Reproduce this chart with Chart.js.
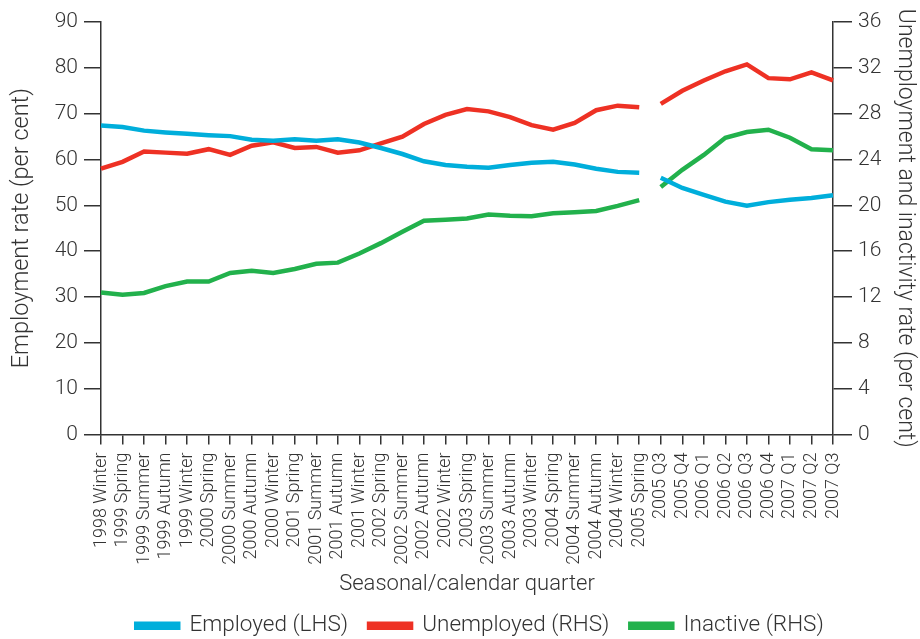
<!DOCTYPE html>
<html>
<head>
<meta charset="utf-8">
<script src="https://cdn.jsdelivr.net/npm/chart.js@4/dist/chart.umd.min.js"></script>
<style>
  html, body { margin: 0; padding: 0; background: #ffffff; }
  #wrap { width: 920px; height: 639px; position: relative; }
</style>
</head>
<body>
<div id="wrap"><canvas id="c" width="920" height="639"></canvas></div>
<script>
const categories = [
  '1998 Winter', '1999 Spring', '1999 Summer', '1999 Autumn', '1999 Winter',
  '2000 Spring', '2000 Summer', '2000 Autumn', '2000 Winter',
  '2001 Spring', '2001 Summer', '2001 Autumn', '2001 Winter',
  '2002 Spring', '2002 Summer', '2002 Autumn', '2002 Winter',
  '2003 Spring', '2003 Summer', '2003 Autumn', '2003 Winter',
  '2004 Spring', '2004 Summer', '2004 Autumn', '2004 Winter',
  '2005 Spring',
  '2005 Q3', '2005 Q4', '2006 Q1', '2006 Q2', '2006 Q3', '2006 Q4',
  '2007 Q1', '2007 Q2', '2007 Q3'
];
// series break (seasonal -> calendar quarters)
const breakAfter = '2005 Spring';

const employedLHS = [
  67.4, 67.1, 66.3, 65.9, 65.6, 65.3, 65.1, 64.3, 64.1, 64.4, 64.1, 64.4, 63.7,
  62.5, 61.2, 59.6, 58.8, 58.4, 58.2, 58.8, 59.3, 59.5, 58.9, 58.0, 57.3, 57.1,
  56.0, 53.8, 52.3, 50.8, 49.9, 50.7, 51.2, 51.6, 52.2
];
const unemployedRHS = [
  23.2, 23.8, 24.7, 24.6, 24.5, 24.9, 24.4, 25.2, 25.5, 25.0, 25.1, 24.6, 24.8,
  25.4, 26.0, 27.1, 27.9, 28.4, 28.2, 27.7, 27.0, 26.6, 27.2, 28.3, 28.7, 28.55,
  28.85, 30.0, 30.9, 31.7, 32.3, 31.1, 31.0, 31.6, 30.9
];
const inactiveRHS = [
  12.4, 12.2, 12.35, 12.95, 13.35, 13.35, 14.1, 14.3, 14.1, 14.45, 14.9, 15.0, 15.8,
  16.7, 17.7, 18.65, 18.75, 18.85, 19.2, 19.1, 19.05, 19.3, 19.4, 19.5, 19.95, 20.45,
  21.6, 23.1, 24.4, 25.9, 26.4, 26.6, 25.9, 24.9, 24.8
];

const seriesNames = ['Employed (LHS)', 'Unemployed (RHS)', 'Inactive (RHS)'];
const leftTicks = { min: 0, max: 90, step: 10 };
const rightTicks = { min: 0, max: 36, step: 4 };

const colors = { blue: '#00aedb', red: '#ee3124', green: '#22b14c' };
const breakIndex = categories.indexOf(breakAfter);
const FONT = "'Roboto', 'Liberation Sans', sans-serif";
const TXT = '#333333';
const AX = '#333333';

function ds(label, data, color, axis) {
  return {
    label, data, yAxisID: axis,
    borderColor: color, backgroundColor: color,
    borderWidth: 4.5, pointRadius: 0, pointHoverRadius: 0, tension: 0,
    segment: {
      borderColor: ctx => ctx.p0DataIndex === breakIndex ? 'rgba(0,0,0,0)' : undefined
    }
  };
}

new Chart(document.getElementById('c'), {
  type: 'line',
  data: {
    labels: categories,
    datasets: [
      ds(seriesNames[0], employedLHS, colors.blue, 'yL'),
      ds(seriesNames[1], unemployedRHS, colors.red, 'yR'),
      ds(seriesNames[2], inactiveRHS, colors.green, 'yR')
    ]
  },
  options: {
    responsive: false,
    animation: false,
    devicePixelRatio: 1,
    layout: { padding: { top: 22, left: 40, right: 0, bottom: -8 } },
    plugins: {
      tooltip: { enabled: false },
      legend: {
        position: 'bottom',
        labels: {
          color: TXT,
          font: { family: FONT, size: 22.5, weight: 300 },
          boxWidth: 42, boxHeight: 4, padding: 21
        }
      }
    },
    scales: {
      x: {
        offset: false,
        afterFit: s => { s.height = 159; },
        border: { display: true, color: AX, width: 1.5 },
        grid: { drawOnChartArea: false, drawTicks: true, tickLength: 10, tickColor: AX, lineWidth: 1.5 },
        ticks: {
          autoSkip: false, maxRotation: 90, minRotation: 90, padding: 8,
          color: TXT, font: { family: FONT, size: 18, weight: 300 }
        },
        title: {
          display: true, text: 'Seasonal/calendar quarter', color: TXT,
          font: { family: FONT, size: 22, weight: 300 }, padding: { top: 0, bottom: -4 }
        }
      },
      yL: {
        position: 'left', min: leftTicks.min, max: leftTicks.max,
        afterFit: s => { s.width = 61; },
        border: { display: true, color: AX, width: 1.5 },
        grid: { drawOnChartArea: false, drawTicks: true, tickLength: 17, tickColor: AX, lineWidth: 1.5 },
        ticks: {
          stepSize: leftTicks.step, padding: 6, color: TXT,
          font: { family: FONT, size: 21, weight: 300 }
        },
        title: {
          display: true, text: 'Employment rate (per cent)', color: TXT,
          font: { family: FONT, size: 23.5, weight: 300 }, padding: { top: -32, bottom: 0 }
        }
      },
      yR: {
        position: 'right', min: rightTicks.min, max: rightTicks.max,
        afterFit: s => { s.width = 87; },
        border: { display: true, color: AX, width: 1.5 },
        grid: { drawOnChartArea: false, drawTicks: true, tickLength: 19, tickColor: AX, lineWidth: 1.5 },
        ticks: {
          stepSize: rightTicks.step, padding: 6, color: TXT,
          font: { family: FONT, size: 21, weight: 300 }
        },
        title: {
          display: true, text: 'Unemployment and inactivity rate (per cent)', color: TXT,
          font: { family: FONT, size: 23, weight: 300 }, padding: { top: 1, bottom: 0 }
        }
      }
    }
  }
});
</script>
</body>
</html>
